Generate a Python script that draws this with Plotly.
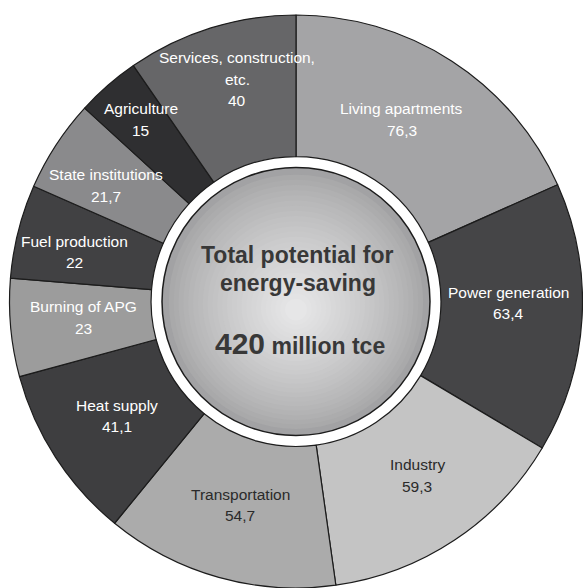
import plotly.graph_objects as go

# ---------------- data ----------------
categories = ["Living apartments", "Power generation", "Industry", "Transportation",
              "Heat supply", "Burning of APG", "Fuel production", "State institutions",
              "Agriculture", "Services, construction, etc."]
values = [76.3, 63.4, 59.3, 54.7, 41.1, 23, 22, 21.7, 15, 40]
value_labels = ["76,3", "63,4", "59,3", "54,7", "41,1", "23", "22", "21,7", "15", "40"]
total_value = "420"
total_unit = "million tce"
center_title = ["Total potential for", "energy-saving"]

# ---------------- style ----------------
W, H = 583, 588
CX, CY, R = 296, 301.5, 286.5
colors = ["#a4a4a6", "#454547", "#c4c4c4", "#ababab", "#3e3e40",
          "#9c9c9c", "#414143", "#8a8a8c", "#2f2f31", "#666668"]
text_colors = ["#ffffff", "#ffffff", "#2a2a2a", "#2a2a2a", "#ffffff",
               "#ffffff", "#ffffff", "#ffffff", "#ffffff", "#ffffff"]
name_lines = {"Services, construction, etc.": ["Services, construction,", "etc."]}
# label block anchor (x centre, y of first line) in pixels
label_anchor = [(401.5, 108.5), (508.5, 292), (417, 464.7), (240.5, 494),
                (116.5, 405), (83, 306.7), (74.5, 241), (106, 174.7),
                (140.5, 108.5), (237, 57.6)]
LINE = 21.5


def px(x):
    return x / W


def py(y):
    return 1 - y / H


fig = go.Figure()
fig.add_trace(go.Pie(
    labels=categories, values=values, sort=False, direction="clockwise", rotation=0,
    hole=0.506, textinfo="none", hoverinfo="label+value",
    marker=dict(colors=colors, line=dict(color="#1c1c1c", width=1.2)),
    domain=dict(x=[(CX - R) / W, min(1.0, (CX + R) / W)], y=[0, 1 - (CY - R) / H]),
    showlegend=False,
))

shapes = []
# centre disc with a radial-looking gradient (concentric circles)
r0 = 134
shapes.append(dict(type="circle", xref="paper", yref="paper", layer="above",
                   x0=px(CX - r0), x1=px(CX + r0), y0=py(CY + r0), y1=py(CY - r0),
                   fillcolor="#a2a2a4", line=dict(color="#1c1c1c", width=1.5)))
N = 26
for i in range(1, N):
    r = r0 - 2 - i * (r0 - 8) / N
    t = i / (N - 1)
    g = int(164 + (230 - 164) * t ** 0.8)
    ccy = CY + 8 * t
    shapes.append(dict(type="circle", xref="paper", yref="paper", layer="above",
                       x0=px(CX - r), x1=px(CX + r), y0=py(ccy + r), y1=py(ccy - r),
                       fillcolor=f"rgb({g},{g},{g + 1})", line=dict(width=0)))

annotations = []
for cat, val, col, (ax, ay) in zip(categories, value_labels, text_colors, label_anchor):
    lines = name_lines.get(cat, [cat]) + [val]
    for k, line in enumerate(lines):
        annotations.append(dict(
            text=line, x=px(ax), y=py(ay + k * LINE), xref="paper", yref="paper",
            xanchor="center", yanchor="middle", showarrow=False,
            font=dict(family="Liberation Sans, Arial", size=15.5, color=col)))

title_font = dict(family="Liberation Sans, Arial", size=23, color="#383838")
for k, line in enumerate(center_title):
    annotations.append(dict(text=f"<b>{line}</b>", x=px(297.5), y=py(255 + k * 28),
                            xref="paper", yref="paper", xanchor="center", yanchor="middle",
                            showarrow=False, font=title_font))
annotations.append(dict(
    text=f"<b><span style='font-size:30px'>{total_value}</span> {total_unit}</b>",
    x=px(300), y=py(343), xref="paper", yref="paper", xanchor="center", yanchor="middle",
    showarrow=False, font=title_font))

fig.update_layout(
    width=W, height=H, margin=dict(l=0, r=0, t=0, b=0),
    paper_bgcolor="white", plot_bgcolor="white",
    shapes=shapes, annotations=annotations,
)

fig.write_html("out.html", config={"displayModeBar": False},
               post_script="document.body.style.margin='0';document.body.style.overflow='hidden';")
